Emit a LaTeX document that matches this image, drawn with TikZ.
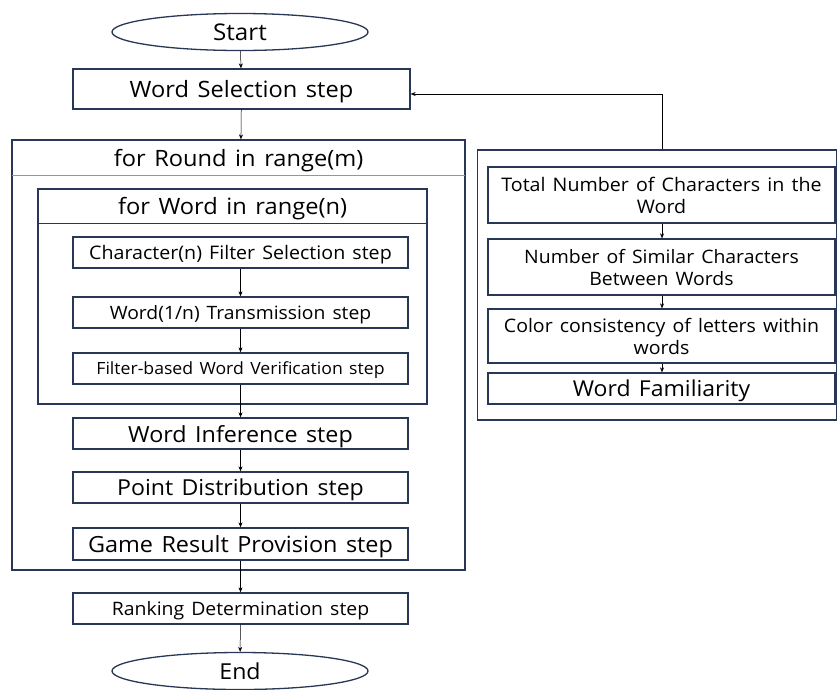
\documentclass[tikz,border=0pt]{standalone}
\usepackage{fontspec}
\setmainfont{Open Sans}[FakeStretch=1.05, WordSpace=1.4]
\usetikzlibrary{shapes.geometric,arrows.meta}
\definecolor{frame}{RGB}{40,55,85}
\definecolor{sep}{RGB}{150,150,150}
\tikzset{
  box/.style={draw=frame, line width=1.3pt, rectangle, inner sep=0pt, align=center, text=black, text depth=0pt},
  oval/.style={draw=frame, line width=1.3pt, ellipse, inner sep=0pt, text=black, text depth=0pt},
  title/.style={inner sep=0pt, text depth=0pt},
  flow/.style={draw=black, line width=0.5pt, -{Stealth[length=5pt,width=4pt]}},
  fs/.style={font=\fontsize{#1}{22}\selectfont}
}
\begin{document}
\begin{tikzpicture}[x=1pt,y=-1pt]
\useasboundingbox (0,0) rectangle (838,689);
% left column
\node[oval, minimum width=256, minimum height=37, fs=23] (start) at (240,32) {Start};
\node[box, minimum width=337, minimum height=40, fs=22.5] (wsel) at (241.5,89) {Word Selection step};
\node[box, minimum width=453, minimum height=430] (round) at (238.5,355) {};
\draw[sep, line width=1pt] (12,175) -- (465,175);
\node[title, fs=22.5] (roundt) at (238.5,158) {for Round in range(m)};
\node[box, minimum width=389, minimum height=215] (wloop) at (232.5,296.5) {};
\draw[frame, line width=0.6pt] (38,223) -- (427,223);
\node[title, fs=22.5] (wloopt) at (232.5,206) {for Word in range(n)};
\node[box, minimum width=335, minimum height=31, fs=18.7] (cfs) at (240.5,252.5) {Character(n) Filter Selection step};
\node[box, minimum width=335, minimum height=31, fs=18.4] (wtr) at (240.5,312.5) {Word(1/n) Transmission step};
\node[box, minimum width=335, minimum height=31, fs=16.8] (fwv) at (240.5,368.5) {Filter-based Word Verification step};
\node[box, minimum width=335, minimum height=31, fs=22.2] (winf) at (240.5,433.5) {Word Inference step};
\node[box, minimum width=335, minimum height=31, fs=22] (pdist) at (240.5,487.5) {Point Distribution step};
\node[box, minimum width=335, minimum height=32, fs=22.3] (grp) at (240.5,544) {Game Result Provision step};
\node[box, minimum width=335, minimum height=31, fs=18.5] (rank) at (240.5,608.5) {Ranking Determination step};
\node[oval, minimum width=256, minimum height=37, fs=22] (end) at (240,671) {End};
% right panel
\node[box, minimum width=359, minimum height=270] (crit) at (657,285) {};
\node[box, minimum width=347, minimum height=56, fs=18.7] (tot) at (661.5,195) {Total Number of Characters in the\\Word};
\node[box, minimum width=347, minimum height=56, fs=18.5] (sim) at (661.5,267) {Number of Similar Characters\\Between Words};
\node[box, minimum width=347, minimum height=54, fs=18.6] (col) at (661.5,336) {Color consistency of letters within\\words};
\node[box, minimum width=347, minimum height=31, fs=21.9] (fam) at (661.5,388.5) {Word Familiarity};
\coordinate (fb) at (662,94);
% connectors
\draw[flow] (start) -- (wsel);
\draw[flow] (wsel) -- (round);
\draw[flow] (cfs) -- (wtr);
\draw[flow] (wtr) -- (fwv);
\draw[flow] (fwv) -- (winf);
\draw[flow] (winf) -- (pdist);
\draw[flow] (pdist) -- (grp);
\draw[flow] (grp) -- (rank);
\draw[flow] (rank) -- (end);
\draw[flow] (tot.south -| fb) -- (sim.north -| fb);
\draw[flow] (sim.south -| fb) -- (col.north -| fb);
\draw[flow] (col.south -| fb) -- (fam.north -| fb);
\draw[flow] (crit.north -| fb) -- (fb) -- (fb -| wsel.east);
\end{tikzpicture}
\end{document}
